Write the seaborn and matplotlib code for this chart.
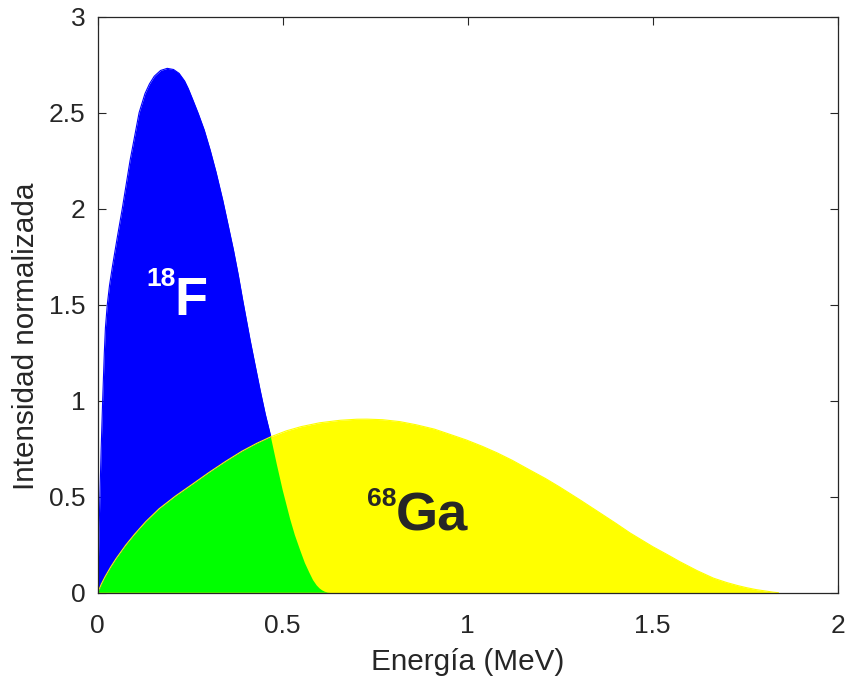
import numpy as np
import matplotlib
matplotlib.use("Agg")
import matplotlib.pyplot as plt
from matplotlib.patches import PathPatch
import seaborn as sns
import pandas as pd

# ---- data ----
f18_energy = [0.0, 0.003, 0.006, 0.0095, 0.0135, 0.018, 0.021, 0.026, 0.032, 0.040,
              0.053, 0.0665, 0.0875, 0.112, 0.128, 0.140, 0.153, 0.170, 0.188, 0.205,
              0.220, 0.235, 0.245, 0.257, 0.272, 0.288, 0.304, 0.320, 0.338, 0.352,
              0.367, 0.380, 0.392, 0.402, 0.412, 0.425, 0.439, 0.453, 0.468, 0.484,
              0.500, 0.520, 0.533, 0.547, 0.560, 0.572, 0.582, 0.592, 0.600, 0.607,
              0.614, 0.622, 0.630]
f18_intensity = [0.0, 0.25, 0.50, 0.75, 1.00, 1.25, 1.38, 1.50, 1.60, 1.70,
                 1.85, 2.00, 2.25, 2.50, 2.60, 2.65, 2.69, 2.72, 2.731, 2.725,
                 2.705, 2.665, 2.625, 2.568, 2.495, 2.41, 2.306, 2.19, 2.045, 1.92,
                 1.785, 1.655, 1.524, 1.42, 1.316, 1.19, 1.056, 0.93, 0.8125, 0.67,
                 0.535, 0.385, 0.30, 0.223, 0.155, 0.105, 0.066, 0.038, 0.022, 0.012,
                 0.005, 0.001, 0.0]

ga68_energy = [0.0, 0.010, 0.020, 0.035, 0.050, 0.076, 0.100, 0.130, 0.166, 0.210,
               0.256, 0.300, 0.345, 0.390, 0.430, 0.468, 0.510, 0.550, 0.600, 0.655,
               0.700, 0.728, 0.770, 0.817, 0.860, 0.910, 0.950, 0.997, 1.040, 1.080,
               1.120, 1.168, 1.210, 1.249, 1.304, 1.358, 1.400, 1.439, 1.470, 1.500,
               1.538, 1.574, 1.620, 1.664, 1.700, 1.730, 1.754, 1.780, 1.808, 1.825,
               1.840]
ga68_intensity = [0.0, 0.045, 0.083, 0.133, 0.178, 0.248, 0.305, 0.370, 0.437, 0.503,
                  0.565, 0.625, 0.683, 0.737, 0.778, 0.812, 0.843, 0.865, 0.885, 0.898,
                  0.9035, 0.904, 0.901, 0.891, 0.875, 0.852, 0.826, 0.795, 0.762, 0.728,
                  0.690, 0.639, 0.595, 0.550, 0.483, 0.415, 0.362, 0.311, 0.275, 0.240,
                  0.200, 0.161, 0.115, 0.076, 0.053, 0.037, 0.026, 0.016, 0.008, 0.003,
                  0.0]

x_ticks = [0, 0.5, 1, 1.5, 2]
x_tick_labels = ["0", "0.5", "1", "1.5", "2"]
y_ticks = [0, 0.5, 1, 1.5, 2, 2.5, 3]
y_tick_labels = ["0", "0.5", "1", "1.5", "2", "2.5", "3"]

x_label = "Energía (MeV)"
y_label = "Intensidad normalizada"

blue = "#0000FF"
yellow = "#FFFF00"
green = "#00FF00"
ink = "#262626"

sns.set_style("white")
plt.rcParams["font.family"] = ["Liberation Sans", "DejaVu Sans"]

fig = plt.figure(figsize=(8.47, 6.79), dpi=100)
ax = fig.add_axes([0.1153, 0.1271, 0.989 - 0.1153, 0.9754 - 0.1271])

df_f = pd.DataFrame({"E": f18_energy, "I": f18_intensity})
df_g = pd.DataFrame({"E": ga68_energy, "I": ga68_intensity})

blue_fill = ax.fill_between(df_f["E"], 0, df_f["I"], color=blue, linewidth=0, zorder=1)
sns.lineplot(data=df_f, x="E", y="I", ax=ax, color=blue, linewidth=0.8, sort=False, zorder=1)
ax.fill_between(df_g["E"], 0, df_g["I"], color=yellow, linewidth=0, zorder=2)
sns.lineplot(data=df_g, x="E", y="I", ax=ax, color=yellow, linewidth=0.8, sort=False, zorder=2)

# overlap region: the 68Ga area clipped to the 18F area
clip_patch = PathPatch(blue_fill.get_paths()[0], transform=ax.transData,
                       facecolor="none", edgecolor="none")
ax.add_patch(clip_patch)
green_fill = ax.fill_between(df_g["E"], 0, df_g["I"], color=green, linewidth=0, zorder=3)
green_fill.set_clip_path(clip_patch)

# labels inside the areas
ax.text(0.133, 1.597, "18", color="white", fontsize=19, fontweight="bold",
        ha="left", va="baseline", zorder=5)
ax.text(0.208, 1.446, "F", color="white", fontsize=39, fontweight="bold",
        ha="left", va="baseline", zorder=5)
ax.text(0.727, 0.452, "68", color=ink, fontsize=19, fontweight="bold",
        ha="left", va="baseline", zorder=5)
ax.text(0.805, 0.323, "Ga", color=ink, fontsize=39, fontweight="bold",
        ha="left", va="baseline", zorder=5)

ax.set_xlim(0, 2)
ax.set_ylim(0, 3)
ax.set_xticks(x_ticks)
ax.set_xticklabels(x_tick_labels)
ax.set_yticks(y_ticks)
ax.set_yticklabels(y_tick_labels)
ax.set_xlabel(x_label, fontsize=21.4, color=ink)
ax.set_ylabel(y_label, fontsize=21.4, color=ink)
ax.xaxis.set_label_coords(0.5, -0.096)
ax.yaxis.set_label_coords(-0.078, 0.4457)

ax.tick_params(axis="both", which="both", direction="in", length=5.5, width=0.8,
               color=ink, labelcolor=ink, labelsize=19, top=True, right=True,
               bottom=True, left=True)
ax.tick_params(axis="x", pad=15)
ax.tick_params(axis="y", pad=9)
for s in ax.spines.values():
    s.set_visible(True)
    s.set_color(ink)
    s.set_linewidth(0.9)
    s.set_zorder(6)

fig.savefig("out.png", dpi=100, facecolor="white")
